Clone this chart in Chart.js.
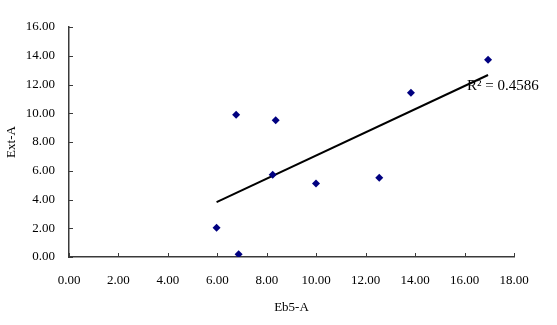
<!DOCTYPE html>
<html>
<head>
<meta charset="utf-8">
<script src="https://cdn.jsdelivr.net/npm/chart.js@4/dist/chart.umd.min.js"></script>
<style>
html, body { margin: 0; padding: 0; background: #fff; }
#wrap { width: 557px; height: 325px; }
</style>
</head>
<body>
<div id="wrap"><canvas id="scatter"></canvas></div>
<script>
// values
const eb5 = [5.97, 6.86, 8.24, 6.76, 8.36, 9.99, 12.55, 13.83, 16.95];
const ext = [2.04, 0.19, 5.73, 9.90, 9.51, 5.12, 5.52, 11.43, 13.73];
const xTitle = 'Eb5-A';
const yTitle = 'Ext-A';
const r2Label = 'R² = 0.4586';

const points = eb5.map((x, i) => ({ x: x, y: ext[i] }));

// linear trendline (least squares) over the data range
const n = eb5.length;
const mx = eb5.reduce((a, b) => a + b, 0) / n;
const my = ext.reduce((a, b) => a + b, 0) / n;
let sxy = 0, sxx = 0;
for (let i = 0; i < n; i++) {
  sxy += (eb5[i] - mx) * (ext[i] - my);
  sxx += (eb5[i] - mx) * (eb5[i] - mx);
}
const slope = sxy / sxx;
const icpt = my - slope * mx;
const x0 = Math.min(...eb5), x1 = Math.max(...eb5);
const trend = [{ x: x0, y: icpt + slope * x0 }, { x: x1, y: icpt + slope * x1 }];

const serif = '"Liberation Serif", "Times New Roman", serif';
const axisColor = '#3a3a3a';

// tick marks pointing into the plot, and the R² text
const extras = {
  id: 'extras',
  afterDraw(chart) {
    const c = chart.ctx;
    const xs = chart.scales.x, ys = chart.scales.y;
    const area = chart.chartArea;
    c.save();
    c.strokeStyle = axisColor;
    c.lineWidth = 1;
    c.beginPath();
    xs.ticks.forEach(t => {
      const px = Math.round(xs.getPixelForValue(t.value)) + 0.5;
      c.moveTo(px, area.bottom);
      c.lineTo(px, area.bottom - 4);
    });
    ys.ticks.forEach(t => {
      const py = Math.round(ys.getPixelForValue(t.value)) + 0.5;
      c.moveTo(area.left, py);
      c.lineTo(area.left + 4, py);
    });
    c.stroke();
    c.fillStyle = '#000';
    c.font = '15px ' + serif;
    c.textBaseline = 'alphabetic';
    c.textAlign = 'left';
    c.fillText(r2Label, 467, 90);
    c.restore();
  }
};

new Chart(document.getElementById('scatter'), {
  type: 'scatter',
  data: {
    datasets: [
      {
        label: 'data',
        data: points,
        pointStyle: 'rectRot',
        pointRadius: 4,
        pointBackgroundColor: '#000080',
        pointBorderColor: '#000080',
        borderWidth: 0,
        order: 1
      },
      {
        type: 'line',
        label: 'trend',
        data: trend,
        borderColor: '#000',
        borderWidth: 2,
        pointRadius: 0,
        fill: false,
        order: 2
      }
    ]
  },
  options: {
    responsive: true,
    maintainAspectRatio: false,
    animation: false,
    layout: { padding: { top: 27, right: 43, left: 0, bottom: 0 } },
    plugins: {
      legend: { display: false },
      tooltip: { enabled: false }
    },
    scales: {
      x: {
        type: 'linear',
        min: 0,
        max: 18,
        afterFit(s) { s.height = 68; },
        ticks: {
          stepSize: 2,
          padding: 16,
          color: '#000',
          font: { family: serif, size: 13 },
          callback: v => v.toFixed(2)
        },
        grid: { drawOnChartArea: false, drawTicks: false },
        border: { color: axisColor, width: 1.5 },
        title: {
          display: true,
          text: xTitle,
          color: '#000',
          font: { family: serif, size: 13 },
          padding: { top: 4, bottom: 10 }
        }
      },
      y: {
        type: 'linear',
        min: 0,
        max: 16,
        afterFit(s) { s.width = 69; },
        ticks: {
          stepSize: 2,
          padding: 14,
          color: '#000',
          font: { family: serif, size: 13 },
          callback: v => v.toFixed(2)
        },
        grid: { drawOnChartArea: false, drawTicks: false },
        border: { color: axisColor, width: 1.5 },
        title: {
          display: true,
          text: yTitle,
          color: '#000',
          font: { family: serif, size: 13 },
          padding: { top: 4, bottom: 4 }
        }
      }
    }
  },
  plugins: [extras]
});
</script>
</body>
</html>
